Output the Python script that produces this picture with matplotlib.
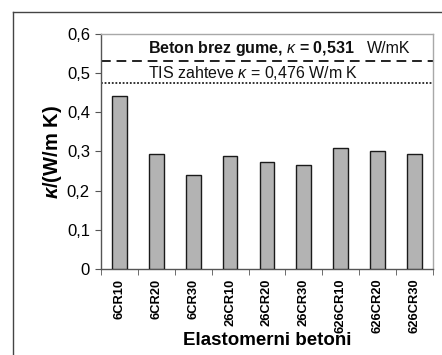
import matplotlib
matplotlib.use("Agg")
import matplotlib.pyplot as plt
from matplotlib.lines import Line2D

plt.rcParams['font.family'] = ['Liberation Sans', 'DejaVu Sans']
plt.rcParams['mathtext.fontset'] = 'custom'
plt.rcParams['mathtext.rm'] = 'Liberation Sans'
plt.rcParams['mathtext.it'] = 'Liberation Sans:italic'
plt.rcParams['mathtext.bf'] = 'Liberation Sans:bold'
plt.rcParams['mathtext.bfit'] = 'Liberation Sans:italic:bold'

categories = ['6CR10', '6CR20', '6CR30', '26CR10', '26CR20', '26CR30',
              '626CR10', '626CR20', '626CR30']
kappa = [0.441, 0.293, 0.239, 0.288, 0.272, 0.265, 0.310, 0.301, 0.293]
kappa_plain = 0.531   # beton brez gume
kappa_tis = 0.476     # TIS zahteve
y_ticks = [0, 0.1, 0.2, 0.3, 0.4, 0.5, 0.6]
y_tick_labels = ['0', '0,1', '0,2', '0,3', '0,4', '0,5', '0,6']

fig = plt.figure(figsize=(4.42, 3.55), dpi=100)
ax = fig.add_axes([0.2285, 0.2423, 0.7511, 0.6619])

x = list(range(len(categories)))
ax.bar(x, kappa, width=0.4, color='#b3b3b3', edgecolor='#1a1a1a', linewidth=1.0, zorder=3)

ax.axhline(kappa_plain, color='#222222', linestyle=(0, (5, 3)), linewidth=1.4, zorder=2)
ax.axhline(kappa_tis, color='#222222', linestyle=(0, (1, 1)), linewidth=1.3, zorder=2)

ax.text(0.77, 0.563, 'Beton brez gume, $\\kappa$ = 0,531', fontsize=11.5,
        fontweight='bold', va='center', ha='left', color='#111111')
ax.text(6.7, 0.563, 'W/mK', fontsize=11.5, va='center', ha='left', color='#111111')
ax.text(0.77, 0.501, 'TIS zahteve $\\kappa$ = 0,476 W/m K', fontsize=11.5,
        va='center', ha='left', color='#111111')

ax.set_xlim(-0.5, len(categories) - 0.5)
ax.set_ylim(0, 0.6)
ax.set_yticks(y_ticks)
ax.set_yticklabels(y_tick_labels, fontsize=12)
ax.set_xticks(x)
ax.set_xticklabels(categories, rotation=90, fontsize=9.3, fontweight='bold')
ax.set_xticks([i - 0.5 for i in range(len(categories) + 1)], minor=True)
ax.tick_params(axis='x', which='major', length=0, pad=7)
ax.tick_params(axis='x', which='minor', length=4, color='#555555', direction='out')
ax.tick_params(axis='y', length=4, color='#555555', direction='out', pad=4)

for side in ('left', 'bottom'):
    ax.spines[side].set_color('#555555')
    ax.spines[side].set_linewidth(1.0)
for side in ('top', 'right'):
    ax.spines[side].set_color('#a8a8a8')
    ax.spines[side].set_linewidth(1.0)

ax.set_xlabel('Elastomerni betoni', fontsize=13.5, fontweight='bold', labelpad=-1)
ax.set_ylabel('$\\mathbfit{\\kappa}$/(W/m K)', fontsize=14.5, fontweight='bold', labelpad=2)

# outer frame
fig.add_artist(Line2D([13 / 442, 13 / 442], [1 - 12 / 355, 0], transform=fig.transFigure,
                      color='#444444', linewidth=1.0))
fig.add_artist(Line2D([13 / 442, 1], [1 - 12 / 355, 1 - 12 / 355], transform=fig.transFigure,
                      color='#444444', linewidth=1.0))

fig.savefig('out.png', dpi=100)
